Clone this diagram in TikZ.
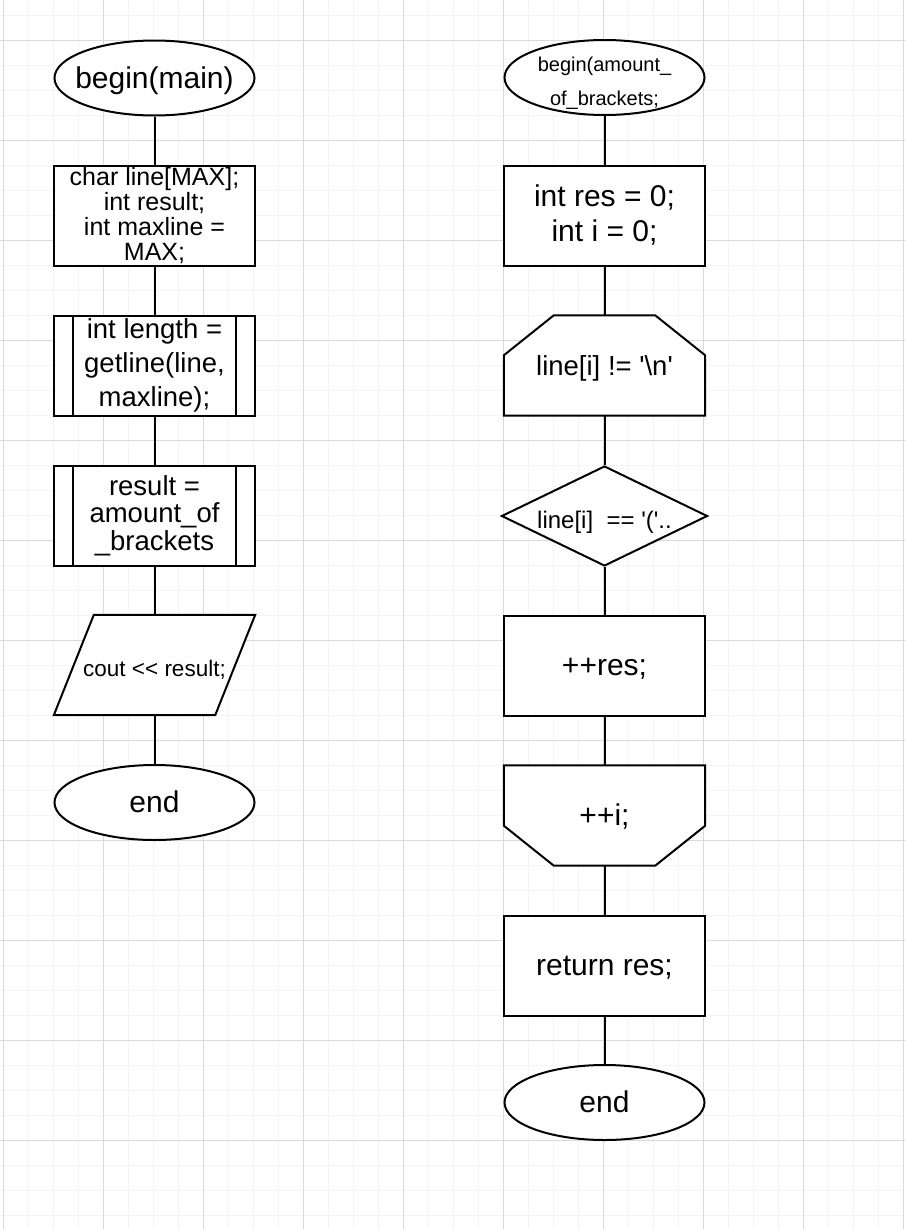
\documentclass[tikz,border=0pt]{standalone}
\usepackage{fontspec}
\setmainfont{Liberation Sans}[Ligatures=TeXOff]
\usetikzlibrary{shapes.geometric}
\definecolor{gridMinor}{HTML}{F4F4F4}
\definecolor{gridMajor}{HTML}{DADADA}
\pgfdeclarelayer{paper}
\pgfdeclarelayer{outline}
\pgfsetlayers{paper,outline,main}
\tikzstyle{chart} = [x = 1pt, y = -1pt]
\tikzstyle{minorLine} = [color=gridMinor, line width=1pt]
\tikzstyle{majorLine} = [color=gridMajor, line width=1pt]
\tikzstyle{flowLine} = [color=black, line width=2pt]
\tikzstyle{blockStyle} = [draw=black, line width=2pt, fill=white, inner sep=0pt, align=center]
\tikzstyle{terminalStyle} = [blockStyle, ellipse, inner xsep=-15pt, minimum width=200, minimum height=75]
\tikzstyle{processStyle} = [blockStyle, rectangle, minimum width=201, minimum height=100]
\tikzstyle{decisionStyle} = [blockStyle, diamond, aspect=2, minimum width=206, minimum height=100]
\tikzstyle{frameStyle} = [rectangle, inner sep=0pt, align=center, minimum width=201, minimum height=100]
\tikzstyle{outlineStyle} = [flowLine, fill=white]
\tikzstyle{lineThirty} = [font=\fontsize{30}{36}\selectfont, text height=27.2pt, text depth=6.4pt]
\tikzstyle{lineBig} = [font=\fontsize{27.5}{33}\selectfont, text height=24.9pt, text depth=5.8pt]
\tikzstyle{lineMid} = [font=\fontsize{24}{29}\selectfont, text height=26pt, text depth=1.4pt]
\tikzstyle{lineSmall} = [font=\fontsize{22.5}{27}\selectfont, text height=24pt, text depth=0.6pt]
\newcommand{\paperGrid}{
  \fill [white] (0,0) rectangle (905,1229);
  \foreach \col in {0,...,36} {
    \draw [minorLine] (3 + 25 * \col, 0) -- + (0, 1229);
  }
  \foreach \row in {0,...,48} {
    \draw [minorLine] (0, 15 + 25 * \row) -- + (905, 0);
  }
  \foreach \col in {0,...,9} {
    \draw [majorLine] (3 + 100 * \col, 0) -- + (0, 1229);
  }
  \foreach \row in {0,...,11} {
    \draw [majorLine] (0, 40 + 100 * \row) -- + (905, 0);
  }
}
\newcommand{\flowLink}[2]{\draw [flowLine] (#1.south) -- (#2.north);}
\newcommand{\subBars}[1]{\draw [flowLine] ([xshift=20]#1.north west) -- ([xshift=20]#1.south west); \draw [flowLine] ([xshift=-20]#1.north east) -- ([xshift=-20]#1.south east);}
\newcommand{\loopTop}[1]{\begin{pgfonlayer}{outline}\filldraw [outlineStyle] ([xshift=50]#1.north west) -- ([xshift=-50]#1.north east) -- ([yshift=-40]#1.north east) -- (#1.south east) -- (#1.south west) -- ([yshift=-40]#1.north west) -- cycle;\end{pgfonlayer}}
\newcommand{\loopBottom}[1]{\begin{pgfonlayer}{outline}\filldraw [outlineStyle] (#1.north west) -- (#1.north east) -- ([yshift=40]#1.south east) -- ([xshift=-50]#1.south east) -- ([xshift=50]#1.south west) -- ([yshift=40]#1.south west) -- cycle;\end{pgfonlayer}}
\newcommand{\ioShape}[1]{\begin{pgfonlayer}{outline}\filldraw [outlineStyle] ([xshift=40]#1.north west) -- (#1.north east) -- ([xshift=-40]#1.south east) -- (#1.south west) -- cycle;\end{pgfonlayer}}
\begin{document}
\begin{tikzpicture}[chart]
  \useasboundingbox (0,0) rectangle (905,1229);
  \begin{pgfonlayer}{paper}\paperGrid\end{pgfonlayer}
  \node [terminalStyle, lineThirty] (mainStart) at (154.5, 78) {begin(main)};
  \node [processStyle, font=\fontsize{25}{25.3}\selectfont] (mainVars) at (154.5, 215.5) {char line[MAX];\\int result;\\int maxline =\\MAX;};
  \node [processStyle, font=\fontsize{27.5}{34}\selectfont] (readLine) at (154.5, 365.5) {int length =\\getline(line,\\maxline);};
  \node [processStyle, font=\fontsize{27.5}{27.5}\selectfont] (countCall) at (154.5, 515.5) {result =\\amount\_of\\\_brackets};
  \node [frameStyle, lineSmall] (printOut) at (154.5, 665) {cout << result;};
  \node [terminalStyle, lineThirty] (mainEnd) at (154.5, 802.5) {end};
  \subBars{readLine}
  \subBars{countCall}
  \ioShape{printOut}
  \flowLink{mainStart}{mainVars}
  \flowLink{mainVars}{readLine}
  \flowLink{readLine}{countCall}
  \flowLink{countCall}{printOut}
  \flowLink{printOut}{mainEnd}
  \node [terminalStyle, label={[name=fnStartText, font=\fontsize{20}{34}\selectfont, align=center, yshift=-6pt]center:begin(amount\_\\of\_brackets;}] (fnStart) at (604.5, 77.5) {};
  \node [processStyle, font=\fontsize{30}{35}\selectfont] (fnVars) at (604.5, 215.5) {int res = 0;\\int i = 0;};
  \node [frameStyle, lineBig] (loopStart) at (604.5, 365.5) {line[i] != \textquotesingle\textbackslash n\textquotesingle};
  \node [decisionStyle, lineMid] (isOpen) at (604.5, 516) {line[i]\ \ == \textquotesingle(\textquotesingle..};
  \node [processStyle, lineThirty] (incRes) at (604.5, 665.5) {++res;};
  \node [frameStyle, lineThirty] (loopEnd) at (604.5, 815.5) {++i;};
  \node [processStyle, lineThirty] (retRes) at (604.5, 965.5) {return res;};
  \node [terminalStyle, lineThirty] (fnEnd) at (604.5, 1102.5) {end};
  \loopTop{loopStart}
  \loopBottom{loopEnd}
  \flowLink{fnStart}{fnVars}
  \flowLink{fnVars}{loopStart}
  \flowLink{loopStart}{isOpen}
  \flowLink{isOpen}{incRes}
  \flowLink{incRes}{loopEnd}
  \flowLink{loopEnd}{retRes}
  \flowLink{retRes}{fnEnd}
\end{tikzpicture}
\end{document}
